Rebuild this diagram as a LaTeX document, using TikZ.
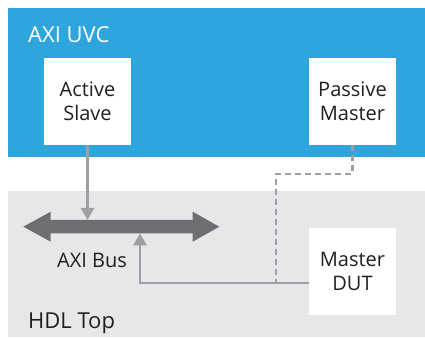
\documentclass[tikz,border=0pt]{standalone}
\usepackage{fontspec}
\setmainfont{Open Sans}
\usetikzlibrary{arrows.meta,positioning}
\definecolor{uvcblue}{HTML}{2EA6DD}
\definecolor{hdlgray}{HTML}{E6E7E8}
\definecolor{busgray}{HTML}{6D6E71}
\definecolor{linkgray}{HTML}{9D9FA2}
\definecolor{txtgray}{HTML}{231F20}

\begin{document}
\begin{tikzpicture}[x=1pt,y=1pt]
\tikzset{
  unitbox/.style={fill=white,minimum size=87pt,inner sep=0pt,align=center,
    text=txtgray,font=\fontsize{20}{24}\selectfont},
  title/.style={anchor=base west,inner sep=0pt,font=\fontsize{22}{26}\selectfont},
  link/.style={draw=linkgray,line width=2.4pt},
  linkarrow/.style={link,-{Triangle[length=12pt,width=13pt]}},
  snooplink/.style={link,dash pattern=on 6pt off 4pt}
}
\useasboundingbox (0,0) rectangle (425,337);
\fill[uvcblue] (8,180) rectangle (425,329);
\fill[hdlgray] (8,0) rectangle (425,146);
\node[title,text=white] (n_uvc) at (28,294.3) {AXI UVC};
\node[title,text=txtgray] (n_hdl) at (28,9) {HDL Top};
\node[unitbox] (n_aslave) at (87.5,235.5) {Active\\Slave};
\node[unitbox] (n_pmaster) at (352.5,235.5) {Passive\\Master};
\node[unitbox] (n_dut) at (352.5,65.5) {Master\\DUT};
% bus
\fill[busgray] (23.3,110.3) -- (50.7,125.3) -- (50.7,117) -- (192.7,117)
  -- (192.7,125.3) -- (219.3,110.3) -- (192.7,95.3) -- (192.7,103.7)
  -- (50.7,103.7) -- (50.7,95.3) -- cycle;
\coordinate (c_bustop) at (87.5,117);
\coordinate (c_busbot) at (140,103.7);
\coordinate (c_dutport) at (309,53.7);
\coordinate (c_snoopbend) at (276,163);
\coordinate (c_snoopend) at (276,53.7);
\node[anchor=base,inner sep=0pt,text=txtgray,font=\fontsize{20}{24}\selectfont] (n_bus) at (92,69) {AXI Bus};
\draw[linkarrow] (n_aslave) -- (c_bustop);
\draw[linkarrow] (c_dutport) -| (c_busbot);
\draw[snooplink] (n_pmaster) |- (c_snoopbend) -- (c_snoopend);
\end{tikzpicture}
\end{document}
